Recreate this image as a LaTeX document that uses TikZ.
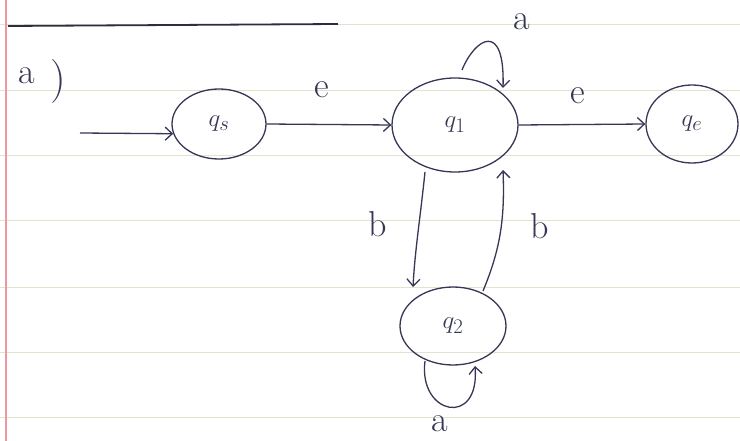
\documentclass[tikz,border=0pt]{standalone}
\usetikzlibrary{shapes.geometric,arrows.meta}
\definecolor{pen}{RGB}{55,55,85}
\definecolor{rule}{RGB}{225,228,205}
\definecolor{margin}{RGB}{240,150,160}
\tikzset{
  state/.style={ellipse,draw=pen,line width=1.3pt,inner sep=0pt,text=pen,font=\fontsize{30}{32}\selectfont},
  edge/.style={draw=pen,line width=1.3pt,-{Straight Barb[length=7pt,width=13pt]}},
  lbl/.style={text=pen,font=\fontsize{36}{38}\selectfont,inner sep=1pt},
  ruled/.style={draw=rule,line width=0.8pt},
}
\begin{document}
\begin{tikzpicture}[x=1pt,y=-1pt]
\useasboundingbox (0,0) rectangle (740,441);
\fill[white] (0,0) rectangle (740,441);
\foreach \yy in {24,90,155,220,287,352,417} \draw[ruled] (0,\yy) -- (740,\yy);
\draw[margin,line width=1.2pt] (6,0) -- (6,441);
\draw[pen!80!black,line width=1.8pt] (8,26) -- (338,24);
\node[lbl] (parta) at (27,76) {a};
\node[text=pen,font=\fontsize{44}{46}\selectfont] (partp) at (58,82) {)};

\node[state,minimum width=94pt,minimum height=70pt] (qs) at (219,124) {$q_s$};
\node[state,minimum width=126pt,minimum height=94pt] (q1) at (455,125) {$q_1$};
\node[state,minimum width=92pt,minimum height=78pt] (qe) at (692,124) {$q_e$};
\node[state,minimum width=106pt,minimum height=78pt] (q2) at (453,326) {$q_2$};

\coordinate (start) at (80,133);
\draw[edge] (start) -- (qs.192);
\draw[edge] (qs.east) -- (q1.west);
\node[lbl] (le1) at (322,90) {e};
\draw[edge] (q1.east) -- (qe.west);
\node[lbl] (le2) at (578,96) {e};
\coordinate (loopa) at (462,70);
\draw[edge] (loopa) .. controls (475,38) and (505,20) .. (503,88);
\node[lbl] (la) at (522,22) {a};
\draw[edge] (425,172) .. controls (420,220) and (415,250) .. (413,287);
\node[lbl] (lb1) at (378,224) {b};
\draw[edge] (483,291) .. controls (500,250) and (505,220) .. (503,170);
\node[lbl] (lb2) at (540,226) {b};
\coordinate (loopb) at (425,361);
\draw[edge] (loopb) .. controls (418,415) and (480,428) .. (475,366);
\node[lbl] (la2) at (440,424) {a};
\end{tikzpicture}
\end{document}
